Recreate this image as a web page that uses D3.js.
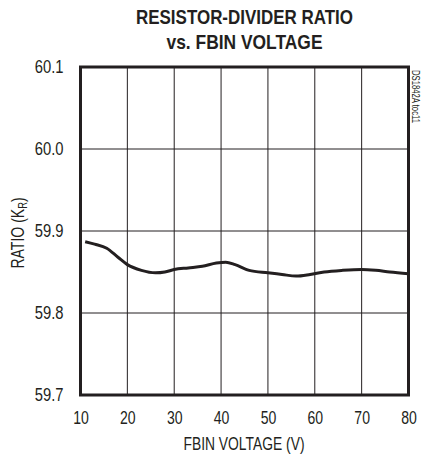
<!DOCTYPE html>
<html><head><meta charset="utf-8">
<script src="https://cdn.jsdelivr.net/npm/d3@7"></script>
<style>
body{margin:0;background:#fff;}
text{font-family:"Liberation Sans",Arial,sans-serif;fill:#231f20;}
</style></head><body>
<svg id="c" width="422" height="454"></svg>
<script>
const titleLines = ["RESISTOR-DIVIDER RATIO", "vs. FBIN VOLTAGE"];
const xTicks = [10, 20, 30, 40, 50, 60, 70, 80];
const yTicks = [59.7, 59.8, 59.9, 60.0, 60.1];
const voltage = [11, 13, 15.6, 18, 20, 23, 26, 28, 30, 33, 36, 39, 41, 43, 46, 50, 53, 56, 59, 62, 66, 70, 73, 76, 80];
const ratio = [59.887, 59.884, 59.879, 59.868, 59.859, 59.852, 59.849, 59.850, 59.853, 59.855, 59.857, 59.861, 59.862, 59.859, 59.852, 59.849, 59.847, 59.845, 59.847, 59.850, 59.852, 59.853, 59.852, 59.850, 59.848];

const svg = d3.select("#c");
const m = {l: 80.5, r: 408.5, t: 67, b: 395};
const x = d3.scaleLinear().domain([10, 80]).range([m.l, m.r]);
const y = d3.scaleLinear().domain([59.7, 60.1]).range([m.b, m.t]);

function condense(sel, f) {
  sel.each(function() {
    const w = this.getComputedTextLength();
    d3.select(this).attr("textLength", w * f).attr("lengthAdjust", "spacingAndGlyphs");
  });
}

// gridlines
svg.append("g").selectAll("line").data(xTicks.slice(1, -1)).join("line")
  .attr("x1", d => x(d)).attr("x2", d => x(d)).attr("y1", m.t).attr("y2", m.b)
  .attr("stroke", "#231f20").attr("stroke-width", 1);
svg.append("g").selectAll("line").data(yTicks.slice(1, -1)).join("line")
  .attr("y1", d => y(d)).attr("y2", d => y(d)).attr("x1", m.l).attr("x2", m.r)
  .attr("stroke", "#231f20").attr("stroke-width", 1);

// axes
const xAxis = svg.append("g").attr("transform", `translate(0,${m.b})`)
  .call(d3.axisBottom(x).tickValues(xTicks).tickSize(0).tickPadding(16).tickFormat(d3.format("d")));
xAxis.select(".domain").remove();
xAxis.selectAll("text").attr("font-size", 18).attr("font-family", null).attr("fill", "#231f20");
condense(xAxis.selectAll("text"), 0.78);
const yAxis = svg.append("g").attr("transform", `translate(${m.l},0)`)
  .call(d3.axisLeft(y).tickValues(yTicks).tickSize(0).tickPadding(17).tickFormat(d3.format(".1f")));
yAxis.select(".domain").remove();
yAxis.selectAll("text").attr("font-size", 18).attr("font-family", null).attr("fill", "#231f20");
condense(yAxis.selectAll("text"), 0.82);

// curve
const line = d3.line().x((d, i) => x(voltage[i])).y(d => y(d)).curve(d3.curveMonotoneX);
svg.append("path").datum(ratio).attr("d", line).attr("fill", "none")
  .attr("stroke", "#231f20").attr("stroke-width", 3).attr("stroke-linejoin", "round");

// frame
svg.append("rect").attr("x", m.l).attr("y", m.t).attr("width", m.r - m.l).attr("height", m.b - m.t)
  .attr("fill", "none").attr("stroke", "#231f20").attr("stroke-width", 3);

// title
svg.append("text").attr("x", 244.5).attr("y", 23.5).attr("text-anchor", "middle")
  .attr("font-size", 21).attr("font-weight", "bold").attr("textLength", 217)
  .attr("lengthAdjust", "spacingAndGlyphs").text(titleLines[0]);
svg.append("text").attr("x", 244.5).attr("y", 48.5).attr("text-anchor", "middle")
  .attr("font-size", 21).attr("font-weight", "bold").attr("textLength", 156)
  .attr("lengthAdjust", "spacingAndGlyphs").text(titleLines[1]);

// axis titles
svg.append("text").attr("x", 244).attr("y", 450).attr("text-anchor", "middle")
  .attr("font-size", 18).attr("textLength", 121).attr("lengthAdjust", "spacingAndGlyphs")
  .text("FBIN VOLTAGE (V)");
svg.append("g").attr("transform", "translate(24,233) rotate(-90) scale(0.78,1)")
  .append("text").attr("text-anchor", "middle").attr("font-size", 18)
  .call(t => {
    t.append("tspan").text("RATIO (K");
    t.append("tspan").attr("font-size", 12).attr("dy", 3).text("R");
    t.append("tspan").attr("dy", -3).text(")");
  });

// side label
svg.append("text").attr("transform", "translate(412,70) rotate(90)")
  .attr("font-size", 10).attr("textLength", 53).attr("lengthAdjust", "spacingAndGlyphs")
  .text("DS1842A toc11");
</script></body></html>
